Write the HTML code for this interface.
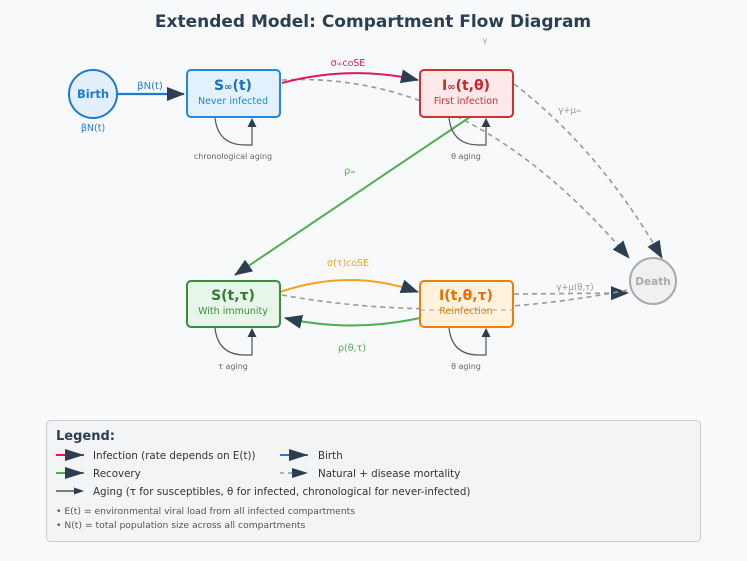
<!DOCTYPE html>
<html><head><style>body{margin:0;background:#f8f9fb}svg{display:block}text{font-family:"DejaVu Sans","Liberation Sans",sans-serif}</style></head><body>
<svg width="747" height="561" viewBox="0 0 747 561" xmlns="http://www.w3.org/2000/svg">
<defs>
<marker id="a" markerWidth="18" markerHeight="14" refX="17" refY="7" orient="auto" markerUnits="userSpaceOnUse"><path d="M0,0L18,7L0,14z" fill="#2c3e50"/></marker>
<marker id="s" markerWidth="9" markerHeight="9" refX="8" refY="4.5" orient="auto" markerUnits="userSpaceOnUse"><path d="M0,0L9,4.5L0,9z" fill="#2c3e50"/></marker>
</defs>
<rect width="747" height="561" fill="#f8f9fb"/>
<text x="373" y="27" text-anchor="middle" font-size="17" font-weight="bold" fill="#2c3e50">Extended Model: Compartment Flow Diagram</text>
<text x="485" y="43" text-anchor="middle" font-size="8" fill="#999">γ</text>
<g fill="none" stroke="#999" stroke-width="1.6" stroke-dasharray="5,4">
<path d="M282,80 Q470,70 629,258" marker-end="url(#a)"/>
<path d="M514,84 Q600,150 662,258" marker-end="url(#a)"/>
<path d="M514,294 L628,293" marker-end="url(#a)"/>
<path d="M282,295 Q450,325 628,290"/>
</g>
<path d="M117,94 L184,94" stroke="#1f7bd1" stroke-width="2.2" fill="none" marker-end="url(#a)"/>
<text x="150" y="89" text-anchor="middle" font-size="10" fill="#1f7bd1">βN(t)</text>
<path d="M282,83 Q350,65 418,80" stroke="#e0195a" stroke-width="2" fill="none" marker-end="url(#a)"/>
<text x="348" y="66" text-anchor="middle" font-size="9.5" fill="#e0195a">σ<tspan font-size="7">∞</tspan>c<tspan font-size="7">O</tspan>SE</text>
<path d="M470,117 L235,275" stroke="#4caf50" stroke-width="2" fill="none" marker-end="url(#a)"/>
<text x="350" y="174" text-anchor="middle" font-size="9.5" fill="#4caf50">ρ<tspan font-size="7">∞</tspan></text>
<path d="M280,292 Q350,268 418,292" stroke="#f9a01b" stroke-width="2" fill="none" marker-end="url(#a)"/>
<text x="348" y="266" text-anchor="middle" font-size="9.5" fill="#f9a01b">σ(τ)c<tspan font-size="7">O</tspan>SE</text>
<path d="M420,318 Q350,333 285,318" stroke="#4caf50" stroke-width="2" fill="none" marker-end="url(#a)"/>
<text x="352" y="351" text-anchor="middle" font-size="9.5" fill="#4caf50">ρ(θ,τ)</text>
<text x="570" y="113" text-anchor="middle" font-size="8.5" fill="#999">γ+μ<tspan font-size="7">∞</tspan></text>
<text x="575" y="290" text-anchor="middle" font-size="8.5" fill="#999">γ+μ(θ,τ)</text>
<g fill="none" stroke="#555" stroke-width="1.2">
<path d="M215,118 Q218,145 245,145 L252,145 L252,119" marker-end="url(#s)"/>
<path d="M449,118 Q452,145 479,145 L486,145 L486,119" marker-end="url(#s)"/>
<path d="M215,328 Q218,355 245,355 L252,355 L252,329" marker-end="url(#s)"/>
<path d="M449,328 Q452,355 479,355 L486,355 L486,329" marker-end="url(#s)"/>
</g>
<text x="233" y="159" text-anchor="middle" font-size="8" fill="#666">chronological aging</text>
<text x="466" y="159" text-anchor="middle" font-size="8" fill="#666">θ aging</text>
<text x="233" y="369" text-anchor="middle" font-size="8" fill="#666">τ aging</text>
<text x="466" y="369" text-anchor="middle" font-size="8" fill="#666">θ aging</text>
<circle cx="93" cy="94" r="24" fill="#e3f0fc" stroke="#1f7bd1" stroke-width="2"/>
<text x="93" y="98" text-anchor="middle" font-size="11.5" font-weight="bold" fill="#1f7bd1">Birth</text>
<text x="93" y="131" text-anchor="middle" font-size="9.5" fill="#1f7bd1">βN(t)</text>
<rect x="187" y="70" width="93" height="47" rx="4" fill="#e3f1fd" stroke="#1e88e5" stroke-width="2"/>
<text x="233" y="90" text-anchor="middle" font-size="14" font-weight="bold" fill="#1e6fc0">S<tspan font-size="10">∞</tspan>(t)</text>
<text x="233" y="104" text-anchor="middle" font-size="9.5" fill="#1e88e5">Never infected</text>
<rect x="420" y="70" width="93" height="47" rx="4" fill="#fde8ea" stroke="#d32f2f" stroke-width="2"/>
<text x="466" y="90" text-anchor="middle" font-size="14" font-weight="bold" fill="#c62828">I<tspan font-size="10">∞</tspan>(t,θ)</text>
<text x="466" y="104" text-anchor="middle" font-size="9.5" fill="#d32f2f">First infection</text>
<rect x="187" y="281" width="93" height="46" rx="4" fill="#e8f5e9" stroke="#388e3c" stroke-width="2"/>
<text x="233" y="300" text-anchor="middle" font-size="14" font-weight="bold" fill="#2e7d32">S(t,τ)</text>
<text x="233" y="314" text-anchor="middle" font-size="9.5" fill="#388e3c">With immunity</text>
<rect x="420" y="281" width="93" height="46" rx="4" fill="#fff3e0" stroke="#f57c00" stroke-width="2"/>
<text x="466" y="300" text-anchor="middle" font-size="14" font-weight="bold" fill="#ef6c00">I(t,θ,τ)</text>
<text x="466" y="314" text-anchor="middle" font-size="9.5" fill="#f57c00">Reinfection</text>
<path d="M420,310 L514,310" stroke="#999" stroke-width="1.4" stroke-dasharray="5,4" opacity="0.6"/>
<circle cx="653" cy="281" r="23" fill="#f0f0f0" stroke="#aaa" stroke-width="2"/>
<text x="653" y="285" text-anchor="middle" font-size="10.5" font-weight="bold" fill="#aaa">Death</text>
<rect x="46.5" y="420.5" width="654" height="121" rx="4" fill="#f3f4f5" stroke="#ccc"/>
<text x="56" y="440" font-size="13" font-weight="bold" fill="#2c3e50">Legend:</text>
<line x1="56" y1="455" x2="84" y2="455" stroke="#e0195a" stroke-width="2"/><path d="M65,449L84,455L65,461z" fill="#2c3e50"/>
<text x="93" y="459" font-size="10.3" fill="#333">Infection (rate depends on E(t))</text>
<line x1="280" y1="455" x2="308" y2="455" stroke="#1f7bd1" stroke-width="2"/><path d="M289,449L308,455L289,461z" fill="#2c3e50"/>
<text x="318" y="459" font-size="10.3" fill="#333">Birth</text>
<line x1="56" y1="473" x2="84" y2="473" stroke="#4caf50" stroke-width="2"/><path d="M65,467L84,473L65,479z" fill="#2c3e50"/>
<text x="93" y="477" font-size="10.3" fill="#333">Recovery</text>
<line x1="280" y1="473" x2="300" y2="473" stroke="#999" stroke-width="1.5" stroke-dasharray="4,4"/><path d="M292,468L308,473L292,478z" fill="#2c3e50"/>
<text x="318" y="477" font-size="10.3" fill="#333">Natural + disease mortality</text>
<line x1="56" y1="491" x2="78" y2="491" stroke="#555" stroke-width="1.5"/><path d="M74,487.5L84,491L74,494.5z" fill="#2c3e50"/>
<text x="93" y="495" font-size="10.3" fill="#333">Aging (τ for susceptibles, θ for infected, chronological for never-infected)</text>
<text x="56" y="514" font-size="9.2" fill="#555">• E(t) = environmental viral load from all infected compartments</text>
<text x="56" y="528" font-size="9.2" fill="#555">• N(t) = total population size across all compartments</text>
</svg>
</body></html>
